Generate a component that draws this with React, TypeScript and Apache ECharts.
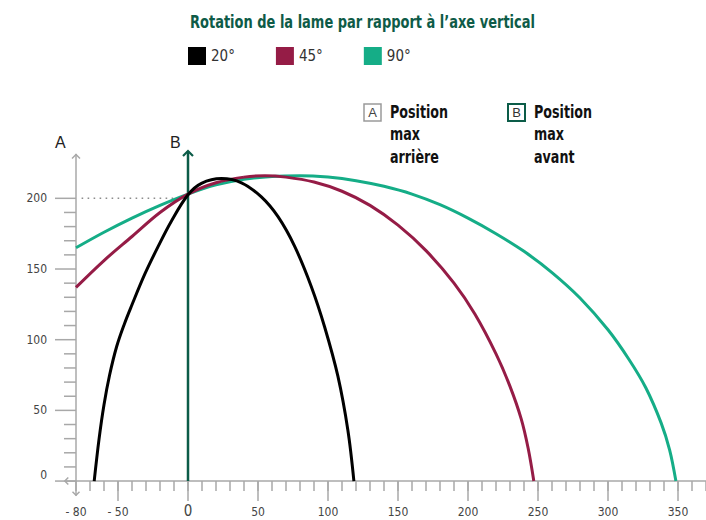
import React, { useEffect, useRef } from "react";
import * as echarts from "echarts";

// ---- Data ----
const seriesNames = ["20°", "45°", "90°"];

const curve20: [number, number][] = [
  [-67, 0], [-63.5, 30], [-60, 54], [-56, 75], [-51, 95], [-45.5, 111], [-40.3, 124],
  [-30.8, 146.5], [-21.3, 166], [-11.8, 184], [0, 202.5], [9.6, 210.6], [23.9, 214],
  [38.2, 211], [52.4, 201], [64.3, 187], [76.2, 166], [88.1, 137.5], [97.6, 109],
  [107.1, 74], [114.2, 36], [118.5, 0],
];

const curve45: [number, number][] = [
  [-80, 137], [-60, 156], [-40, 173], [-20, 190], [0, 203], [20, 211], [40, 215],
  [55, 216], [70, 215], [90, 211.5], [110, 205], [130, 195], [150, 181], [170, 163],
  [190, 140], [205, 118], [220, 90], [230, 67], [238, 44], [243, 23], [247, 0],
];

const curve90: [number, number][] = [
  [-80, 165], [-60, 176], [-40, 186], [-20, 195], [0, 203], [20, 209.5], [40, 213.5],
  [60, 215.5], [80, 216], [100, 215], [120, 212.5], [140, 208.5], [160, 203], [180, 195.5],
  [200, 186], [220, 175], [240, 162.5], [260, 147.5], [280, 129.5], [300, 107], [315, 86],
  [327, 66], [338, 41], [344, 22], [348.5, 0],
];

const guideDotted: [number, number][] = [[-76, 200], [-9, 200]];
const axisB: [number, number][] = [[0, 0], [0, 233.5]];

const yTickValues = [0, 10, 20, 30, 40, 50, 60, 70, 80, 90, 100, 110, 120, 130, 140, 150, 160, 170, 180, 190, 200];
const yLabelValues = [0, 50, 100, 150, 200];
const xMajorTicks = [-50, 0, 50, 100, 150, 200, 250, 300, 350];

// ---- Styling ----
const COLORS = ["#000000", "#951c46", "#15ad87"];
const DARK_GREEN = "#0c5c48";
const AXIS_GRAY = "#a8a8a8";
const COND = "'DejaVu Sans Condensed', 'DejaVu Sans', sans-serif";

const X_MIN = -80;
const X_MAX = 370;
const Y_MIN = -10;
const Y_MAX = 231;

const arrowMarks = [
  { x: X_MIN, y: Y_MAX, dir: "up", color: AXIS_GRAY, size: 4, lw: 1.5 },
  { x: X_MIN, y: Y_MIN, dir: "down", color: AXIS_GRAY, size: 3.5, lw: 1.5 },
  { x: -88, y: 0, dir: "left", color: AXIS_GRAY, size: 3.5, lw: 1.5 },
  { x: 0, y: 233.5, dir: "up", color: DARK_GREEN, size: 5, lw: 2.2 },
];

export default function App() {
  const ref = useRef<HTMLDivElement>(null);

  useEffect(() => {
    if (!ref.current) return;
    const chart = echarts.init(ref.current, null, { renderer: "svg" });

    const curveSeries = [curve20, curve45, curve90].map((d, i) => ({
      name: seriesNames[i],
      type: "line",
      data: d,
      smooth: 0.35,
      symbol: "none",
      z: 5 - i,
      lineStyle: { color: COLORS[i], width: 3 },
      itemStyle: { color: COLORS[i] },
      clip: false,
    }));

    const option: any = {
      animation: false,
      backgroundColor: "#ffffff",
      legend: {
        data: seriesNames,
        left: 188,
        top: 47,
        padding: 0,
        icon: "rect",
        itemWidth: 18,
        itemHeight: 18,
        itemGap: 41,
        textStyle: { fontFamily: COND, fontSize: 15, color: "#333" },
      },
      grid: {
        left: 76,
        right: 0,
        top: 154.5,
        bottom: 24.8,
        containLabel: false,
        outerBoundsMode: "none",
      },
      xAxis: {
        type: "value",
        min: X_MIN,
        max: X_MAX,
        interval: 10,
        splitLine: { show: false },
        axisLine: { onZero: true, lineStyle: { color: AXIS_GRAY, width: 1.5 } },
        axisTick: { length: 10, lineStyle: { color: AXIS_GRAY, width: 1.5 } },
        axisLabel: {
          margin: 17,
          verticalAlign: "middle",
          fontFamily: COND,
          fontSize: 12,
          color: "#444",
          formatter: (v: number) => {
            if (v === -80) return "- 80";
            if (v === -50) return "- 50";
            if (v === 0) return "{big|0}";
            if (v > 0 && v <= 350 && v % 50 === 0) return String(v);
            return "";
          },
          rich: {
            big: { fontSize: 15, lineHeight: 15, fontFamily: COND, color: "#444", padding: [0, 0, 3, 0] },
          },
        },
      },
      yAxis: {
        type: "value",
        min: Y_MIN,
        max: Y_MAX,
        interval: 10,
        splitLine: { show: false },
        axisLine: { onZero: false, lineStyle: { color: AXIS_GRAY, width: 1.5 } },
        axisTick: { show: false },
        axisLabel: {
          margin: 29,
          fontFamily: COND,
          fontSize: 12,
          color: "#444",
          formatter: (v: number) => {
            if (v === 0) return "{z|0}";
            return yLabelValues.indexOf(v) >= 0 ? String(v) : "";
          },
          rich: { z: { fontSize: 12, fontFamily: COND, color: "#444", padding: [0, 0, 12, 0] } },
        },
      },
      series: [
        {
          name: "guide",
          type: "line",
          data: guideDotted,
          symbol: "none",
          silent: true,
          lineStyle: { color: "#8c8c8c", width: 1.6, type: [1.6, 4.4] },
          z: 1,
        },
        {
          name: "axeB",
          type: "line",
          data: axisB,
          symbol: "none",
          silent: true,
          clip: false,
          lineStyle: { color: DARK_GREEN, width: 2.5 },
          z: 2,
        },
        {
          name: "yTicks",
          type: "custom",
          silent: true,
          clip: false,
          data: yTickValues.map((v) => [X_MIN, v]),
          renderItem: (params: any, api: any) => {
            const v = api.value(1);
            const p = api.coord([api.value(0), v]);
            const len = v % 50 === 0 ? 21 : 12;
            return {
              type: "line",
              shape: { x1: p[0] - len, y1: p[1], x2: p[0], y2: p[1] },
              style: { stroke: AXIS_GRAY, lineWidth: 1.5 },
            };
          },
          z: 3,
        },
        {
          name: "xMajorTicks",
          type: "custom",
          silent: true,
          clip: false,
          data: xMajorTicks.map((v) => [v, 0]),
          renderItem: (params: any, api: any) => {
            const p = api.coord([api.value(0), 0]);
            return {
              type: "line",
              shape: { x1: p[0], y1: p[1], x2: p[0], y2: p[1] + 20 },
              style: { stroke: AXIS_GRAY, lineWidth: 1.5 },
            };
          },
          z: 3,
        },
        {
          name: "arrows",
          type: "custom",
          silent: true,
          clip: false,
          data: arrowMarks.map((a) => [a.x, a.y]),
          renderItem: (params: any, api: any) => {
            const a = arrowMarks[params.dataIndex];
            const p = api.coord([a.x, a.y]);
            const s = a.size;
            let pts: number[][];
            const children: any[] = [];
            if (a.dir === "up") pts = [[p[0] - s, p[1] + s], [p[0], p[1]], [p[0] + s, p[1] + s]];
            else if (a.dir === "down") pts = [[p[0] - s, p[1] - s], [p[0], p[1]], [p[0] + s, p[1] - s]];
            else {
              pts = [[p[0] + s, p[1] - s], [p[0], p[1]], [p[0] + s, p[1] + s]];
              const q = api.coord([X_MIN, 0]);
              children.push({
                type: "line",
                shape: { x1: p[0], y1: p[1], x2: q[0], y2: q[1] },
                style: { stroke: a.color, lineWidth: a.lw },
              });
            }
            children.push({
              type: "polyline",
              shape: { points: pts },
              style: { stroke: a.color, lineWidth: a.lw, fill: null },
            });
            return { type: "group", children };
          },
          z: 4,
        },
        curveSeries[2],
        curveSeries[1],
        curveSeries[0],
      ],
      graphic: [
        {
          type: "text",
          x: 190,
          y: 14,
          scaleX: 0.85,
          style: {
            text: "Rotation de la lame par rapport à l’axe vertical",
            fontFamily: COND,
            fontSize: 17,
            fontWeight: "bold",
            fill: "#0e5b47",
          },
        },
        { type: "text", left: 55, top: 134, style: { text: "A", fontFamily: "'Liberation Sans', sans-serif", fontSize: 16, fill: "#222" } },
        { type: "text", left: 170, top: 134, style: { text: "B", fontFamily: "'Liberation Sans', sans-serif", fontSize: 16, fill: "#222" } },
        {
          type: "rect",
          shape: { x: 364, y: 104, width: 17, height: 17 },
          style: { fill: "#fff", stroke: "#9a9a9a", lineWidth: 1.5 },
        },
        { type: "text", x: 372.5, y: 112.5, style: { text: "A", fontFamily: "'Liberation Sans', sans-serif", fontSize: 13, fill: "#444", align: "center", verticalAlign: "middle" } },
        {
          type: "text",
          x: 390,
          y: 101,
          scaleX: 0.83,
          style: {
            text: "Position\nmax\narrière",
            fontFamily: COND,
            fontSize: 17,
            fontWeight: "bold",
            lineHeight: 22.5,
            fill: "#111",
          },
        },
        {
          type: "rect",
          shape: { x: 508, y: 104, width: 17, height: 17 },
          style: { fill: "#fff", stroke: DARK_GREEN, lineWidth: 2 },
        },
        { type: "text", x: 516.5, y: 112.5, style: { text: "B", fontFamily: "'Liberation Sans', sans-serif", fontSize: 13, fill: "#333", align: "center", verticalAlign: "middle" } },
        {
          type: "text",
          x: 534,
          y: 101,
          scaleX: 0.83,
          style: {
            text: "Position\nmax\navant",
            fontFamily: COND,
            fontSize: 17,
            fontWeight: "bold",
            lineHeight: 22.5,
            fill: "#111",
          },
        },
      ],
    };

    chart.setOption(option);
    return () => chart.dispose();
  }, []);

  return (
    <div
      ref={ref}
      style={{ position: "fixed", left: 0, top: 0, width: 706, height: 520, background: "#fff" }}
    />
  );
}
